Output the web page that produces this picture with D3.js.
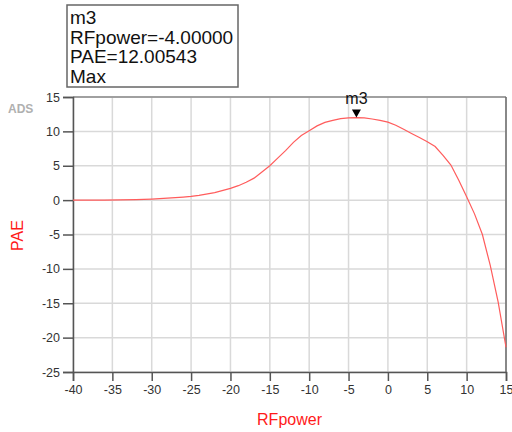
<!DOCTYPE html>
<html>
<head>
<meta charset="utf-8">
<script src="https://cdn.jsdelivr.net/npm/d3@7/dist/d3.min.js"></script>
<style>
  html, body { margin: 0; padding: 0; background: #fff; }
  svg { display: block; font-family: "Liberation Sans", Arial, sans-serif; }
</style>
</head>
<body>
<svg id="chart" width="512" height="432"></svg>
<script>
// PAE sweep versus input RF power
const rfPower = [-40, -38, -36, -34, -32, -30, -28, -26, -25, -24, -22, -20, -19, -18, -17, -16, -15, -14, -13, -12, -11, -10, -9, -8, -7, -6, -5, -4, -3, -2, -1, 0, 1, 2, 3, 4, 5, 6, 7, 8, 9, 10, 11, 12, 13, 14, 15];
const pae = [0, 0, 0.01, 0.03, 0.07, 0.15, 0.28, 0.45, 0.55, 0.7, 1.1, 1.7, 2.1, 2.6, 3.2, 4.1, 5.0, 6.1, 7.2, 8.4, 9.4, 10.1, 10.8, 11.3, 11.6, 11.85, 11.97, 12.00543, 11.95, 11.8, 11.6, 11.35, 10.9, 10.3, 9.7, 9.1, 8.5, 7.8, 6.5, 5.1, 2.9, 0.5, -2.0, -5.0, -9.5, -14.8, -21.4];

const xTicks = [-40, -35, -30, -25, -20, -15, -10, -5, 0, 5, 10, 15];
const yTicks = [-25, -20, -15, -10, -5, 0, 5, 10, 15];

// marker m3 readout
const markerName = "m3";
const markerX = -4;
const markerY = 12.00543;
const markerLines = ["m3", "RFpower=-4.00000", "PAE=12.00543", "Max"];

const svg = d3.select("#chart");
const plotLeft = 73, plotRight = 506, plotTop = 97, plotBottom = 372;

const x = d3.scaleLinear().domain([-40, 15]).range([plotLeft, plotRight]);
const y = d3.scaleLinear().domain([-25, 15]).range([plotBottom, plotTop]);

// grid
const grid = svg.append("g");
grid.selectAll("line.gx").data(xTicks).join("line")
  .attr("x1", d => x(d)).attr("x2", d => x(d))
  .attr("y1", plotTop).attr("y2", plotBottom)
  .attr("stroke", "#d9d9d9").attr("stroke-width", 1.5);
grid.selectAll("line.gy").data(yTicks).join("line")
  .attr("x1", plotLeft).attr("x2", plotRight)
  .attr("y1", d => y(d)).attr("y2", d => y(d))
  .attr("stroke", "#d9d9d9").attr("stroke-width", 1.5);

// frame top and right
svg.append("line").attr("x1", plotLeft).attr("x2", plotRight).attr("y1", plotTop).attr("y2", plotTop)
  .attr("stroke", "#8a8a8a").attr("stroke-width", 1.5);
svg.append("line").attr("x1", plotRight).attr("x2", plotRight).attr("y1", plotTop).attr("y2", plotBottom)
  .attr("stroke", "#6a6a6a").attr("stroke-width", 1.5);

// axes (plain hyphen minus in tick labels)
const fmt = d => String(d);
const xAxis = svg.append("g").attr("transform", `translate(0,${plotBottom})`)
  .call(d3.axisBottom(x).tickValues(xTicks).tickSize(9).tickPadding(4).tickFormat(fmt));
const yAxis = svg.append("g").attr("transform", `translate(${plotLeft},0)`)
  .call(d3.axisLeft(y).tickValues(yTicks).tickSize(10).tickPadding(3).tickFormat(fmt));
[xAxis, yAxis].forEach(g => {
  g.select(".domain").attr("stroke", "#555").attr("stroke-width", 1.5);
  g.selectAll(".tick line").attr("stroke", "#555").attr("stroke-width", 1.5);
  g.selectAll(".tick text").attr("fill", "#333").attr("font-size", 12.5)
    .attr("font-family", "Liberation Sans, Arial, sans-serif");
});

// PAE curve
const line = d3.line().x((d, i) => x(rfPower[i])).y(d => y(d));
svg.append("path").datum(pae)
  .attr("d", line)
  .attr("fill", "none")
  .attr("stroke", "#ff5c5c")
  .attr("stroke-width", 1.2);

// axis titles
svg.append("text").text("RFpower")
  .attr("x", (plotLeft + plotRight) / 2).attr("y", 425)
  .attr("text-anchor", "middle").attr("fill", "#ff1a1a").attr("font-size", 16);
svg.append("text").text("PAE")
  .attr("transform", `translate(23,${(plotTop + plotBottom) / 2 + 1}) rotate(-90)`)
  .attr("text-anchor", "middle").attr("fill", "#ff1a1a").attr("font-size", 16);

svg.append("text").text("ADS")
  .attr("x", 8).attr("y", 113)
  .attr("fill", "#b0b0b0").attr("font-size", 12).attr("font-weight", "bold");

// marker triangle and name
const mx = x(markerX), my = y(markerY);
svg.append("path")
  .attr("d", `M${mx - 4.5},${my - 8} L${mx + 4.5},${my - 8} L${mx},${my} Z`)
  .attr("fill", "#000");
svg.append("text").text(markerName)
  .attr("x", mx).attr("y", 104)
  .attr("text-anchor", "middle").attr("fill", "#111").attr("font-size", 16);

// marker readout box
svg.append("rect").attr("x", 67).attr("y", 5).attr("width", 171).attr("height", 82)
  .attr("fill", "#fff").attr("stroke", "#666").attr("stroke-width", 1.5);
svg.append("g").selectAll("text").data(markerLines).join("text")
  .text(d => d)
  .attr("x", 70).attr("y", (d, i) => 24 + i * 19.5)
  .attr("fill", "#111").attr("font-size", 19);
</script>
</body>
</html>
